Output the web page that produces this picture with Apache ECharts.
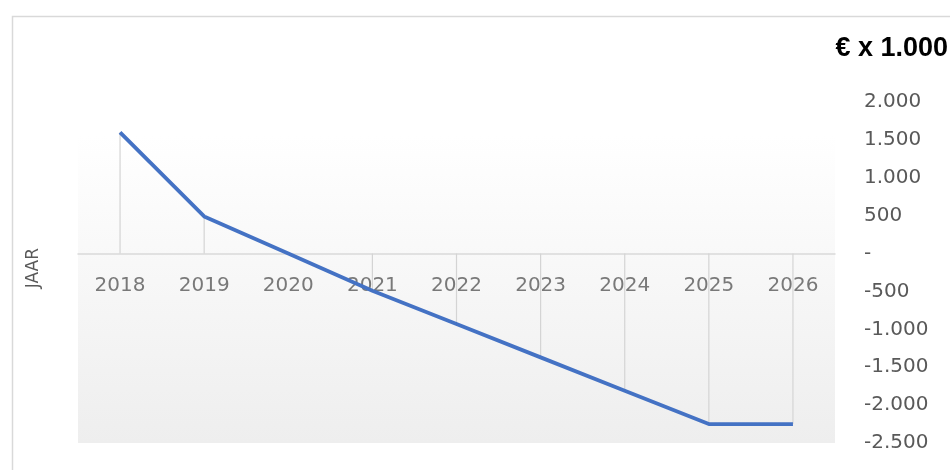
<!DOCTYPE html>
<html>
<head>
<meta charset="utf-8">
<script src="https://cdn.jsdelivr.net/npm/echarts@6/dist/echarts.min.js"></script>
<style>
  html, body { margin: 0; padding: 0; background: #fff; }
  #chart { width: 950px; height: 470px; }
</style>
</head>
<body>
<div id="chart"></div>
<script>
// jaren op de x-as
const jaren = ['2018', '2019', '2020', '2021', '2022', '2023', '2024', '2025', '2026'];
// saldo in € x 1.000
const saldo = [1600, 490, 0, -490, -930, -1370, -1810, -2250, -2250];
// y-as bereik
const yMin = -2500;
const yMax = 2000;
const yStap = 500;

// 1500 -> "1.500", 0 -> "-"
function nlGetal(v) {
  if (v === 0) return '-';
  const s = Math.abs(v).toString().replace(/\B(?=(\d{3})+(?!\d))/g, '.');
  return (v < 0 ? '-' : '') + s;
}

const chart = echarts.init(document.getElementById('chart'));

const option = {
  animation: false,
  textStyle: { fontFamily: 'DejaVu Sans' },
  grid: {
    left: 78,
    right: 115,
    top: 102,
    bottom: 27,
    outerBoundsMode: 'none',
    containLabel: false,
    show: true,
    borderWidth: 0,
    backgroundColor: {
      type: 'linear', x: 0, y: 0, x2: 0, y2: 1,
      colorStops: [
        { offset: 0, color: '#ffffff' },
        { offset: 0.1, color: '#ffffff' },
        { offset: 1, color: '#eeeeee' }
      ]
    }
  },
  // kader rond de grafiek
  graphic: [
    {
      type: 'rect',
      left: 10, top: 14,
      shape: { width: 960, height: 480 },
      style: { fill: 'none', stroke: '#d9d9d9', lineWidth: 1.5 },
      z: -10
    },
    {
      type: 'text',
      right: 2, top: 35,
      style: {
        text: '€ x 1.000',
        font: 'bold 27px "Liberation Sans"',
        fill: '#000'
      }
    },
    {
      type: 'text',
      left: 25, top: 248,
      rotation: Math.PI / 2,
      style: {
        text: 'JAAR',
        font: '17px "DejaVu Sans"',
        fill: '#595959'
      }
    }
  ],
  xAxis: {
    type: 'category',
    data: jaren,
    boundaryGap: true,
    axisLine: { onZero: true, lineStyle: { color: '#d9d9d9', width: 1.5 } },
    axisTick: { show: false },
    axisLabel: { show: false },
    splitLine: { show: false }
  },
  yAxis: {
    type: 'value',
    position: 'right',
    min: yMin,
    max: yMax,
    interval: yStap,
    axisLine: { show: false },
    axisTick: { show: false },
    splitLine: { show: false },
    axisLabel: {
      color: '#595959',
      fontSize: 20,
      align: 'left',
      margin: 29,
      formatter: nlGetal
    }
  },
  series: [
    {
      // loodlijnen van punt naar de as
      type: 'bar',
      data: saldo,
      barWidth: 1.2,
      itemStyle: { color: '#d4d4d4' },
      silent: true,
      z: 1
    },
    {
      type: 'line',
      data: saldo,
      showSymbol: false,
      lineStyle: { color: '#4472c4', width: 3.8 },
      itemStyle: { color: '#4472c4' },
      z: 3
    },
    {
      // jaartallen direct onder de nullijn
      type: 'scatter',
      data: jaren.map(function (j) { return [j, 0]; }),
      symbolSize: 0,
      silent: true,
      label: {
        show: true,
        position: 'bottom',
        distance: 22,
        color: '#595959',
        fontSize: 20,
        formatter: function (p) { return p.value[0]; }
      },
      z: 2
    }
  ]
};

chart.setOption(option);
</script>
</body>
</html>
